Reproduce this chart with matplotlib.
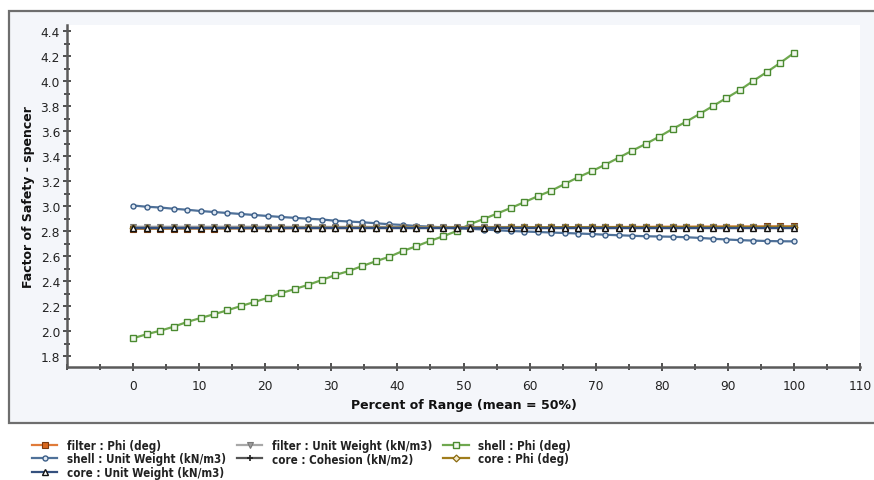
import numpy as np
import matplotlib
matplotlib.use("Agg")
import matplotlib.pyplot as plt
from matplotlib.patches import Rectangle
from matplotlib.ticker import MultipleLocator

# ---- data ----
percent = np.linspace(0, 100, 50)

shell_phi = [1.942, 1.974, 2.002, 2.034, 2.072, 2.104, 2.134, 2.166, 2.200, 2.232,
             2.266, 2.304, 2.336, 2.370, 2.408, 2.448, 2.480, 2.520, 2.558, 2.594,
             2.640, 2.678, 2.720, 2.758, 2.800, 2.856, 2.896, 2.940, 2.984, 3.030,
             3.078, 3.122, 3.176, 3.230, 3.278, 3.330, 3.386, 3.442, 3.496, 3.554,
             3.616, 3.674, 3.736, 3.800, 3.864, 3.928, 4.002, 4.072, 4.146, 4.224]

shell_uw = [3.004, 2.994, 2.988, 2.978, 2.970, 2.960, 2.952, 2.944, 2.936, 2.928,
            2.920, 2.912, 2.905, 2.898, 2.892, 2.882, 2.876, 2.870, 2.862, 2.854,
            2.848, 2.840, 2.835, 2.828, 2.822, 2.817, 2.812, 2.806, 2.800, 2.796,
            2.792, 2.788, 2.784, 2.780, 2.776, 2.770, 2.766, 2.762, 2.758, 2.756,
            2.754, 2.750, 2.745, 2.738, 2.732, 2.727, 2.723, 2.720, 2.718, 2.717]

filter_phi = [2.818, 2.818, 2.819, 2.819, 2.820, 2.820, 2.820, 2.821, 2.821, 2.822,
              2.822, 2.822, 2.823, 2.823, 2.824, 2.824, 2.824, 2.825, 2.825, 2.826,
              2.826, 2.826, 2.827, 2.827, 2.828, 2.828, 2.828, 2.829, 2.829, 2.830,
              2.830, 2.830, 2.831, 2.831, 2.832, 2.832, 2.832, 2.833, 2.833, 2.834,
              2.834, 2.834, 2.835, 2.835, 2.836, 2.836, 2.836, 2.837, 2.837, 2.838]

filter_uw = [2.834, 2.834, 2.834, 2.834, 2.834, 2.834, 2.834, 2.834, 2.834, 2.834,
             2.833, 2.833, 2.833, 2.833, 2.833, 2.833, 2.833, 2.833, 2.833, 2.833,
             2.832, 2.832, 2.832, 2.832, 2.832, 2.832, 2.832, 2.832, 2.832, 2.832,
             2.831, 2.831, 2.831, 2.831, 2.831, 2.831, 2.831, 2.831, 2.831, 2.831,
             2.830, 2.830, 2.830, 2.830, 2.830, 2.830, 2.830, 2.830, 2.830, 2.830]

core_coh = [2.828, 2.828, 2.828, 2.828, 2.828, 2.828, 2.828, 2.828, 2.828, 2.828,
            2.828, 2.828, 2.828, 2.828, 2.828, 2.828, 2.828, 2.828, 2.828, 2.828,
            2.828, 2.828, 2.828, 2.828, 2.828, 2.828, 2.828, 2.828, 2.828, 2.828,
            2.828, 2.828, 2.828, 2.828, 2.828, 2.828, 2.828, 2.828, 2.828, 2.828,
            2.828, 2.828, 2.828, 2.828, 2.828, 2.828, 2.828, 2.828, 2.828, 2.828]

core_phi = [2.822, 2.822, 2.822, 2.822, 2.823, 2.823, 2.823, 2.823, 2.824, 2.824,
            2.824, 2.824, 2.825, 2.825, 2.825, 2.825, 2.826, 2.826, 2.826, 2.826,
            2.827, 2.827, 2.827, 2.827, 2.828, 2.828, 2.828, 2.828, 2.829, 2.829,
            2.829, 2.829, 2.830, 2.830, 2.830, 2.830, 2.831, 2.831, 2.831, 2.831,
            2.832, 2.832, 2.832, 2.832, 2.833, 2.833, 2.833, 2.833, 2.834, 2.834]

core_uw = [2.828, 2.828, 2.828, 2.828, 2.828, 2.828, 2.828, 2.828, 2.828, 2.828,
           2.828, 2.828, 2.828, 2.828, 2.828, 2.828, 2.828, 2.828, 2.828, 2.828,
           2.828, 2.828, 2.828, 2.828, 2.828, 2.828, 2.828, 2.828, 2.828, 2.828,
           2.828, 2.828, 2.828, 2.828, 2.828, 2.828, 2.828, 2.828, 2.828, 2.828,
           2.828, 2.828, 2.828, 2.828, 2.828, 2.828, 2.828, 2.828, 2.828, 2.828]

x_ticks = [0, 10, 20, 30, 40, 50, 60, 70, 80, 90, 100, 110]
y_ticks = [1.8, 2.0, 2.2, 2.4, 2.6, 2.8, 3.0, 3.2, 3.4, 3.6, 3.8, 4.0, 4.2, 4.4]

# ---- figure ----
W, H = 874, 481
fig = plt.figure(figsize=(W / 100, H / 100), dpi=100)
fig.patch.set_facecolor("white")

panel = Rectangle((9 / W, 1 - 424 / H), (W + 10 - 9) / W, (424 - 12) / H,
                  transform=fig.transFigure, facecolor="#f4f6fa",
                  edgecolor="#6e6e6e", lw=1.6, zorder=-5)
fig.patches.append(panel)

ax = fig.add_axes([67 / W, 1 - 368 / H, (860 - 67) / W, (368 - 26) / H])
ax.set_zorder(2)
ax.set_facecolor("white")
ax.set_xlim(-10, 110)
ax.set_ylim(1.712, 4.448)

for s in ["top", "right"]:
    ax.spines[s].set_visible(False)
for s in ["left", "bottom"]:
    ax.spines[s].set_color("#5a5a5a")
    ax.spines[s].set_linewidth(1.8)

ax.set_xticks(x_ticks)
ax.set_xticklabels([str(v) for v in x_ticks])
ax.xaxis.set_minor_locator(MultipleLocator(5))
ax.set_yticks(y_ticks)
ax.set_yticklabels([f"{v:.1f}" for v in y_ticks])
ax.yaxis.set_minor_locator(MultipleLocator(0.1))
ax.tick_params(axis="both", which="major", direction="inout", length=6, width=1.2,
               color="#333333", labelsize=8.8, labelcolor="#222222", pad=2)
ax.tick_params(axis="both", which="minor", direction="inout", length=5, width=1.2,
               color="#333333")
ax.tick_params(axis="x", which="major", pad=6)

ax.set_xlabel("Percent of Range (mean = 50%)", fontsize=9, fontweight="bold",
              color="#111111", labelpad=4)
ax.set_ylabel("Factor of Safety - spencer", fontsize=9, fontweight="bold",
              color="#111111", labelpad=4)

lw = 1.6
h_sphi, = ax.plot(percent, shell_phi, color="#6fa84f", lw=lw, marker="s", ms=4.5,
                  mfc="#f2f8ee", mec="#4a8a30", mew=1.0, label="shell : Phi (deg)", zorder=3)
h_suw, = ax.plot(percent, shell_uw, color="#4f7199", lw=lw, marker="o", ms=3.6,
                 mfc="#dfe8f2", mec="#3d5f88", mew=1.0, label="shell : Unit Weight (kN/m3)", zorder=3)
h_fphi, = ax.plot(percent, filter_phi, color="#e07b39", lw=lw, marker="s", ms=4.5,
                  mfc="#d9681e", mec="#7a3a10", mew=0.8, label="filter : Phi (deg)", zorder=4)
h_fuw, = ax.plot(percent, filter_uw, color="#a8a8a8", lw=lw, marker="v", ms=5,
                 mfc="#9a9a9a", mec="#7a7a7a", mew=0.8, label="filter : Unit Weight (kN/m3)", zorder=4)
h_coh, = ax.plot(percent, core_coh, color="#555555", lw=lw, marker="+", ms=5,
                 mec="#222222", mew=1.2, label="core : Cohesion (kN/m2)", zorder=4)
h_cphi, = ax.plot(percent, core_phi, color="#a07d1c", lw=lw, marker="D", ms=3.5,
                  mfc="#f3e9c8", mec="#8a6a10", mew=0.9, label="core : Phi (deg)", zorder=4)
h_cuw, = ax.plot(percent, core_uw, color="#34507e", lw=lw, marker="^", ms=5,
                 mfc="white", mec="#111111", mew=1.0, label="core : Unit Weight (kN/m3)", zorder=5)

handles = [h_fphi, h_suw, h_cuw, h_fuw, h_coh, h_sphi, h_cphi]
leg = fig.legend(handles=handles, labels=[h.get_label() for h in handles],
                 ncol=3, loc="upper left", bbox_to_anchor=(32 / W, 1 - 440 / H),
                 frameon=False, handlelength=2.2, handletextpad=0.8,
                 columnspacing=1.0, labelspacing=0.04, borderaxespad=0, borderpad=0,
                 prop={"family": "DejaVu Sans", "stretch": "condensed",
                       "size": 8.3, "weight": "bold"})
for t in leg.get_texts():
    t.set_color("#222222")

fig.savefig("out.png", dpi=100)
